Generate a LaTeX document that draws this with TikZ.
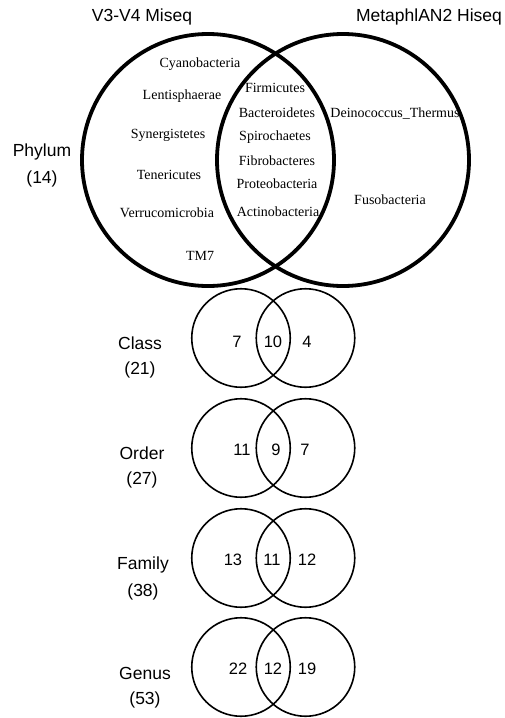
\documentclass[tikz,border=0pt]{standalone}
\usepackage{fontspec}
\setmainfont{Liberation Serif}
\setsansfont{Liberation Sans}
\usetikzlibrary{positioning}
\tikzset{
	bigset/.style={draw, circle, line width=3.8pt, minimum size=252pt, inner sep=0pt},
	smallset/.style={draw, circle, line width=1.6pt, minimum size=98.5pt, inner sep=0pt},
	% taxon names inside the phylum diagram
	taxon/.style={font=\fontsize{14}{16}\selectfont, inner sep=0pt},
	rank/.style={font=\sffamily\fontsize{17.5}{20}\selectfont},
	count/.style={font=\sffamily\fontsize{16.5}{19}\selectfont, inner sep=0pt},
}

\begin{document}
\begin{tikzpicture}[x=1pt, y=-1pt, node distance=27pt]
	\useasboundingbox (0,0) rectangle (504,718);
	
	% phylum
	\node (miseq) [bigset] at (208,160) {};
	\node (hiseq) [bigset] at (343,160) {};
	\node (miseqT) [rank] at (142,17) {V3-V4 Miseq};
	\node (hiseqT) [rank] at (429,17) {MetaphlAN2 Hiseq};
	\node (phylumL) [rank] at (42,152) {Phylum};
	\node (phylumN) [rank, below of=phylumL] {(14)};
	
	\node (t1) [taxon] at (200,64) {Cyanobacteria};
	\node (t2) [taxon] at (182,96) {Lentisphaerae};
	\node (t3) [taxon] at (168,135) {Synergistetes};
	\node (t4) [taxon] at (169,175) {Tenericutes};
	\node (t5) [taxon] at (167,213) {Verrucomicrobia};
	\node (t6) [taxon] at (200,256) {TM7};
	
	\node (s1) [taxon] at (275,88) {Firmicutes};
	\node (s2) [taxon] at (277,113) {Bacteroidetes};
	\node (s3) [taxon] at (275,137) {Spirochaetes};
	\node (s4) [taxon] at (277,161) {Fibrobacteres};
	\node (s5) [taxon] at (277,184) {Proteobacteria};
	\node (s6) [taxon] at (278,212) {Actinobacteria};
	
	\node (h1) [taxon] at (395,114) {Deinococcus\_Thermus};
	\node (h2) [taxon] at (390,200) {Fusobacteria};
	
	% class
	\node (classA) [smallset] at (241,338) {};
	\node (classB) [smallset] at (305.5,338) {};
	\node (classL) [rank] at (140,343) {Class};
	\node (classN) [rank, below of=classL] {(21)};
	\node (class1) [count] at (237,342) {7};
	\node (class2) [count] at (273,342) {10};
	\node (class3) [count] at (307,342) {4};
	
	% order
	\node (orderA) [smallset] at (241,448) {};
	\node (orderB) [smallset] at (305.5,448) {};
	\node (orderL) [rank] at (142,453) {Order};
	\node (orderN) [rank, below of=orderL] {(27)};
	\node (order1) [count] at (242,450) {11};
	\node (order2) [count] at (276,450) {9};
	\node (order3) [count] at (305,450) {7};
	
	% family
	\node (familyA) [smallset] at (241,558) {};
	\node (familyB) [smallset] at (305.5,558) {};
	\node (familyL) [rank] at (143,565) {Family};
	\node (familyN) [rank, below of=familyL] {(38)};
	\node (family1) [count] at (233,560) {13};
	\node (family2) [count] at (272,560) {11};
	\node (family3) [count] at (307,560) {12};
	
	% genus
	\node (genusA) [smallset] at (241,667) {};
	\node (genusB) [smallset] at (305.5,667) {};
	\node (genusL) [rank] at (145,673) {Genus};
	\node (genusN) [rank, below of=genusL] {(53)};
	\node (genus1) [count] at (238,669) {22};
	\node (genus2) [count] at (273,669) {12};
	\node (genus3) [count] at (307,669) {19};
	
\end{tikzpicture}
\end{document}
